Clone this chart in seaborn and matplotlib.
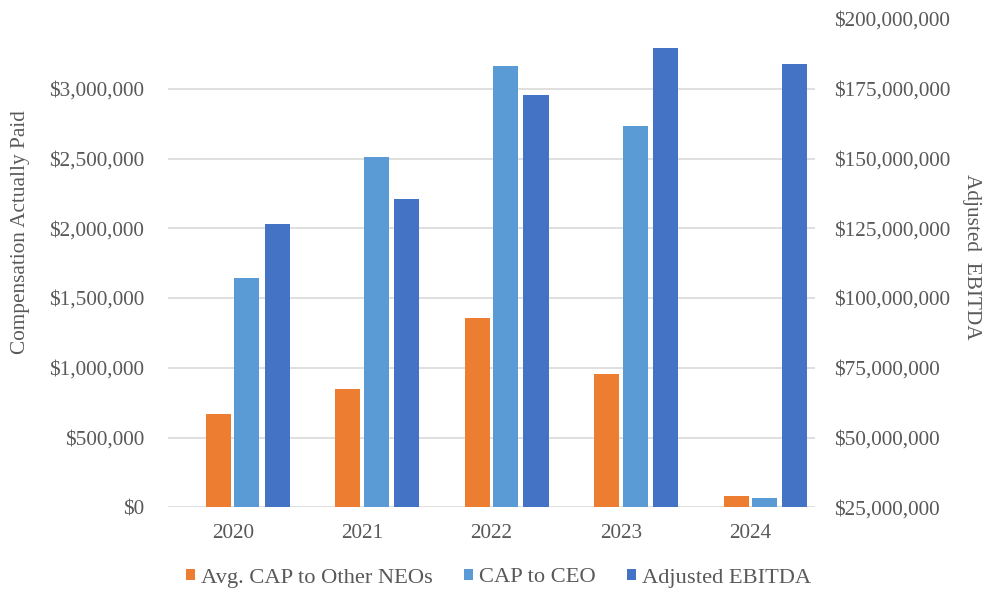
import matplotlib
matplotlib.use("Agg")
import matplotlib.pyplot as plt
import seaborn as sns
import pandas as pd
from matplotlib.patches import Patch
from matplotlib.ticker import FixedLocator, FuncFormatter

# ---------------- data ----------------
years = ["2020", "2021", "2022", "2023", "2024"]
cap_other_neos = [667000, 847000, 1356000, 952000, 81000]
cap_ceo = [1641000, 2512000, 3160000, 2732000, 69000]
adjusted_ebitda = [126600000, 135600000, 172600000, 189500000, 183700000]
series_names = ["Avg. CAP to Other NEOs", "CAP to CEO", "Adjusted EBITDA"]
colors = ["#ED7D31", "#5B9BD5", "#4472C4"]
left_ticks = [0, 500000, 1000000, 1500000, 2000000, 2500000, 3000000]
right_ticks = [25000000, 50000000, 75000000, 100000000, 125000000,
               150000000, 175000000, 200000000]

# ---------------- style ----------------
sns.set_theme(style="white")
plt.rcParams["font.family"] = ["Liberation Serif", "DejaVu Serif"]
TXT = "#595959"
FS = 15.3

W, H = 986, 595
fig = plt.figure(figsize=(W / 100, H / 100), dpi=100)
ax_l, ax_r, ax_t, ax_b = 168, 815, 19, 507.3
ax = fig.add_axes([ax_l / W, (H - ax_b) / H, (ax_r - ax_l) / W, (ax_b - ax_t) / H])

df = pd.DataFrame({
    "Year": years * 2,
    "Value": cap_other_neos + cap_ceo,
    "Series": [series_names[0]] * len(years) + [series_names[1]] * len(years),
})
sns.barplot(data=df, x="Year", y="Value", hue="Series", order=years,
            hue_order=series_names[:2], palette=colors[:2], width=0.44,
            gap=0.12, saturation=1, linewidth=0, legend=False, ax=ax)

ax2 = ax.twinx()
df2 = pd.DataFrame({"Year": years, "Value": adjusted_ebitda})
sns.barplot(data=df2, x="Year", y="Value", order=years, color=colors[2],
            width=0.194, saturation=1, linewidth=0, ax=ax2)
for p in ax2.patches:
    p.set_x(p.get_x() + 0.344)

ax.set_xlim(-0.5, len(years) - 0.5)
ax.set_ylim(0, 3500000)
ax2.set_ylim(25000000, 200000000)

ax.yaxis.set_major_locator(FixedLocator(left_ticks))
ax2.yaxis.set_major_locator(FixedLocator(right_ticks))
money = FuncFormatter(lambda v, _: "${:,.0f}".format(v))
ax.yaxis.set_major_formatter(money)
ax2.yaxis.set_major_formatter(money)

ax.set_axisbelow(True)
ax.yaxis.grid(True, color="#D9D9D9", linewidth=1.2)
ax.xaxis.grid(False)
ax2.grid(False)
for a in (ax, ax2):
    for s in a.spines.values():
        s.set_visible(False)

ax.tick_params(axis="y", length=0, pad=17, labelsize=FS, labelcolor=TXT)
ax.tick_params(axis="x", length=0, pad=12, labelsize=FS, labelcolor=TXT)
ax2.tick_params(axis="y", length=0, pad=14, labelsize=FS, labelcolor=TXT)
ax.set_xlabel("")

ax.set_ylabel("Compensation Actually Paid", fontsize=FS, color=TXT)
ax.yaxis.label.set_va("center")
ax.yaxis.set_label_coords((21 - ax_l) / (ax_r - ax_l), (ax_b - 232) / (ax_b - ax_t))
ax2.set_ylabel("Adjusted  EBITDA", fontsize=FS, color=TXT, rotation=270)
ax2.yaxis.label.set_va("center")
ax2.yaxis.set_label_coords((971 - ax_l) / (ax_r - ax_l), (ax_b - 257) / (ax_b - ax_t))

handles = [Patch(facecolor=c, edgecolor="none", label=n) for c, n in zip(colors, series_names)]
leg = fig.legend(handles=handles, loc="center", bbox_to_anchor=(498.5 / W, 1 - 578 / H),
                 ncol=3, frameon=False, fontsize=16.2, handlelength=0.4, handleheight=0.4,
                 handletextpad=0.25, columnspacing=1.4)
for t in leg.get_texts():
    t.set_color(TXT)

fig.savefig("out.png", dpi=100)
